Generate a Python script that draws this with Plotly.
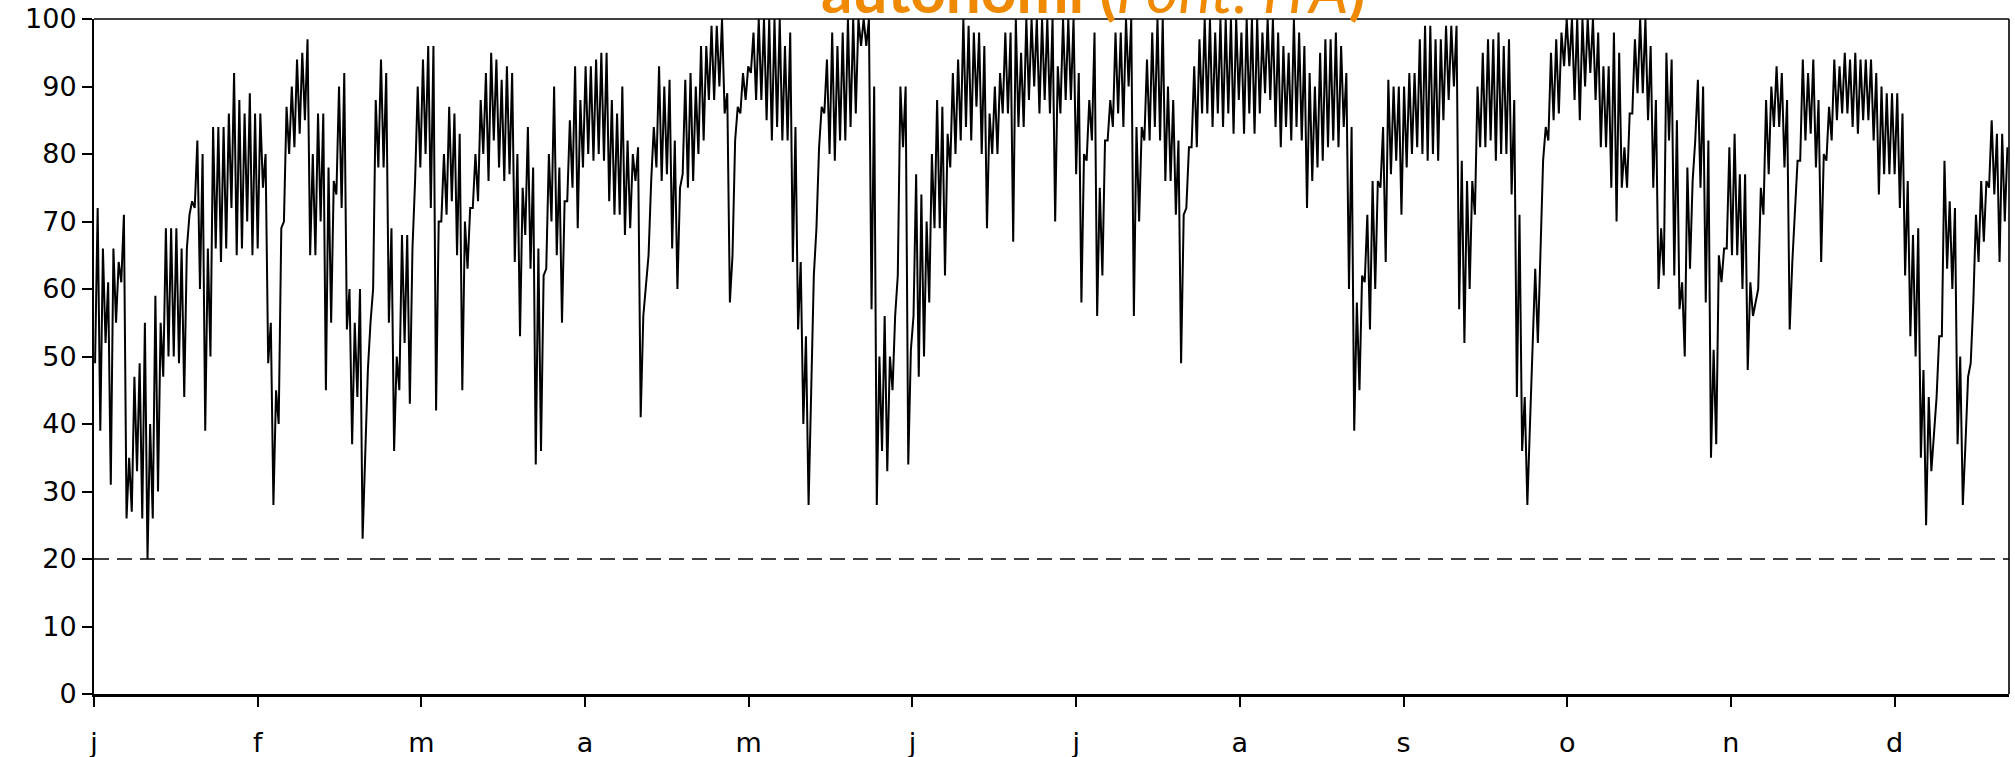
import plotly.graph_objects as go

# Daily minimum / maximum of the state of charge (%), day 0..364
soc_lo = [
    49, 39, 52, 31, 55, 61, 26, 27, 33, 26,
    20, 26, 30, 47, 50, 50, 49, 44, 71, 72,
    60, 39, 50, 66, 64, 66, 72, 65, 66, 70,
    65, 66, 75, 49, 28, 40, 70, 80, 81, 83,
    85, 65, 65, 70, 45, 55, 74, 72, 54, 37,
    44, 23, 48, 60, 78, 78, 55, 36, 45, 52,
    43, 76, 78, 80, 72, 42, 70, 71, 73, 65,
    45, 63, 72, 73, 80, 76, 82, 78, 76, 77,
    64, 53, 68, 63, 34, 36, 63, 70, 65, 55,
    73, 75, 69, 78, 80, 79, 80, 79, 73, 71,
    71, 68, 69, 76, 41, 61, 76, 78, 76, 77,
    66, 60, 77, 75, 76, 80, 82, 88, 88, 90,
    86, 58, 82, 86, 88, 92, 88, 88, 85, 82,
    84, 82, 82, 64, 54, 40, 28, 62, 81, 86,
    80, 79, 82, 82, 84, 86, 96, 96, 57, 28,
    36, 33, 45, 62, 81, 34, 56, 47, 50, 58,
    69, 69, 62, 78, 80, 82, 84, 82, 87, 80,
    69, 80, 80, 86, 86, 67, 84, 84, 88, 90,
    86, 88, 86, 70, 86, 88, 88, 77, 58, 79,
    82, 56, 62, 82, 84, 86, 84, 90, 56, 70,
    82, 82, 84, 82, 76, 76, 71, 49, 72, 81,
    81, 86, 86, 84, 86, 84, 86, 83, 88, 83,
    86, 83, 86, 89, 88, 84, 81, 84, 82, 84,
    82, 72, 76, 78, 79, 81, 82, 81, 84, 60,
    39, 45, 61, 54, 60, 75, 64, 77, 79, 71,
    78, 80, 81, 80, 79, 80, 79, 85, 88, 90,
    57, 52, 60, 71, 81, 81, 82, 79, 80, 80,
    74, 44, 36, 28, 51, 52, 79, 82, 85, 86,
    93, 93, 88, 85, 90, 92, 88, 81, 81, 75,
    70, 75, 75, 86, 89, 89, 85, 75, 60, 62,
    82, 62, 57, 50, 63, 82, 75, 58, 35, 37,
    61, 66, 65, 65, 60, 48, 56, 60, 71, 77,
    84, 84, 78, 54, 72, 79, 82, 83, 78, 64,
    79, 82, 85, 86, 86, 84, 83, 85, 85, 82,
    74, 77, 77, 77, 72, 62, 53, 50, 35, 25,
    33, 44, 53, 63, 60, 37, 28, 47, 58, 64,
    67, 75, 74, 64, 70,
]
soc_hi = [
    72, 66, 61, 66, 64, 71, 35, 47, 49, 55,
    40, 59, 55, 69, 69, 69, 66, 66, 73, 82,
    80, 66, 84, 84, 84, 86, 92, 88, 86, 89,
    86, 86, 80, 55, 45, 69, 87, 90, 94, 95,
    97, 80, 86, 86, 78, 76, 90, 92, 60, 55,
    60, 36, 55, 88, 94, 92, 69, 50, 68, 68,
    66, 90, 94, 96, 96, 70, 80, 87, 86, 83,
    70, 72, 80, 88, 92, 95, 94, 91, 93, 92,
    80, 75, 84, 78, 66, 62, 80, 90, 78, 73,
    85, 93, 88, 93, 93, 94, 95, 95, 88, 86,
    90, 82, 80, 81, 56, 65, 84, 93, 90, 91,
    82, 75, 91, 92, 90, 96, 96, 99, 99, 100,
    89, 65, 87, 92, 93, 98, 100, 100, 100, 100,
    100, 96, 98, 84, 64, 53, 45, 69, 87, 94,
    98, 96, 98, 100, 100, 100, 100, 100, 90, 50,
    56, 50, 56, 90, 90, 51, 77, 74, 70, 80,
    88, 87, 83, 92, 94, 100, 99, 98, 98, 96,
    86, 90, 92, 98, 98, 100, 95, 100, 100, 100,
    100, 100, 100, 93, 100, 100, 100, 92, 80, 88,
    98, 75, 82, 88, 98, 98, 100, 100, 84, 84,
    94, 98, 100, 100, 90, 88, 82, 71, 81, 93,
    97, 100, 100, 98, 100, 100, 100, 100, 98, 100,
    100, 100, 98, 100, 100, 98, 96, 95, 100, 98,
    96, 92, 90, 95, 97, 97, 98, 96, 92, 84,
    58, 62, 71, 76, 76, 84, 91, 90, 90, 90,
    92, 92, 97, 99, 99, 97, 97, 99, 99, 99,
    79, 76, 76, 90, 95, 97, 97, 98, 96, 97,
    88, 71, 44, 40, 63, 64, 84, 95, 97, 98,
    100, 100, 100, 100, 100, 100, 98, 93, 93, 98,
    95, 81, 86, 97, 100, 100, 96, 88, 69, 95,
    94, 85, 61, 78, 76, 91, 90, 82, 51, 65,
    66, 81, 83, 77, 77, 61, 58, 75, 88, 90,
    93, 92, 88, 64, 79, 94, 92, 94, 88, 80,
    87, 94, 93, 95, 94, 95, 94, 94, 94, 92,
    90, 89, 89, 89, 86, 76, 68, 69, 48, 44,
    38, 53, 79, 73, 72, 50, 37, 49, 71, 76,
    76, 85, 83, 83, 81,
]
assert len(soc_lo) == 365 and len(soc_hi) == 365

month_labels = ["j", "f", "m", "a", "m", "j", "j", "a", "s", "o", "n", "d"]
month_step_days = 31.2
threshold = 20

# daily cycle: night minimum, then daytime maximum
xs, ys = [], []
for d, (lo, hi) in enumerate(zip(soc_lo, soc_hi)):
    xs += [d + 0.2, d + 0.7]
    ys += [lo, hi]

fig = go.Figure()
fig.add_trace(go.Scatter(x=xs, y=ys, mode="lines",
                         line=dict(color="#000000", width=2),
                         hoverinfo="skip", showlegend=False))

fig.add_shape(type="line", xref="paper", x0=0, x1=1, yref="y", y0=threshold, y1=threshold,
              line=dict(color="#000000", width=1.6, dash="15px,8px"))
# thin frame (top and right)
fig.add_shape(type="line", xref="paper", yref="paper", x0=0, x1=1, y0=1, y1=1,
              line=dict(color="#000000", width=1.6))
fig.add_shape(type="line", xref="paper", yref="paper", x0=1, x1=1, y0=0, y1=1,
              line=dict(color="#000000", width=1.6))

fig.add_annotation(text="<b>autonomi (</b><i>Font: ITA</i><b>)</b>",
                   xref="paper", yref="paper", x=0.522, y=1, xanchor="center", yanchor="bottom",
                   yshift=-9, showarrow=False,
                   font=dict(family="Lato", size=62, color="#EF8A00"))

fig.update_layout(
    width=2015, height=757,
    margin=dict(l=94, r=6, t=19, b=63, autoexpand=False),
    paper_bgcolor="white", plot_bgcolor="white",
    showlegend=False,
    xaxis=dict(range=[0, 365], tickvals=[i * month_step_days for i in range(12)],
               ticktext=month_labels, ticks="outside", ticklen=10, tickwidth=1.5,
               tickcolor="black", showgrid=False, zeroline=False, showline=True,
               linewidth=2.5, linecolor="black", ticklabelstandoff=13, automargin=False,
               tickfont=dict(family="DejaVu Sans", size=27, color="black")),
    yaxis=dict(range=[0, 100], dtick=10, ticks="outside", ticklen=10, tickwidth=1.5,
               tickcolor="black", showgrid=False, zeroline=False, showline=True,
               linewidth=2, linecolor="black", automargin=False,
               tickfont=dict(family="DejaVu Sans", size=27, color="black")),
)

fig.write_html("out.html", config={"displayModeBar": False},
               post_script="document.body.style.margin='0';document.body.style.overflow='hidden';")
